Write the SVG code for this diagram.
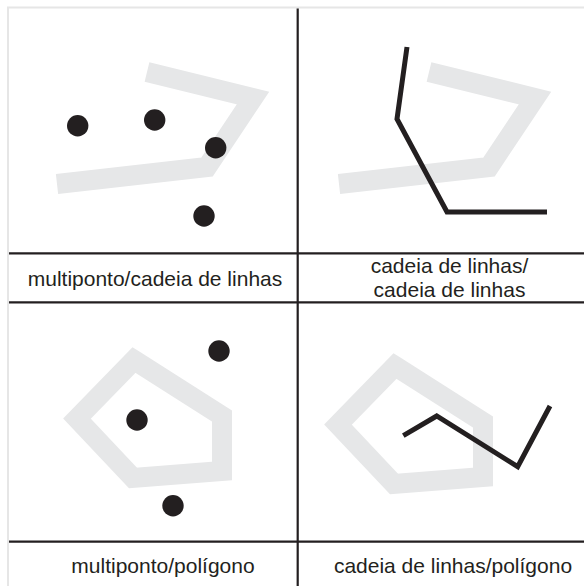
<svg xmlns="http://www.w3.org/2000/svg" width="584" height="586" viewBox="0 0 584 586">
<style>
.frame{fill:none;stroke:#e6e6e6;stroke-width:2}
.grid{stroke:#231f20;stroke-width:2.2;fill:none}
.gray{fill:none;stroke:#e6e7e8;stroke-width:20;stroke-linejoin:miter;stroke-miterlimit:10}
.black{fill:none;stroke:#231f20;stroke-width:5;stroke-linejoin:miter;stroke-miterlimit:10}
.dot{fill:#231f20}
.lbl{font-family:"Liberation Sans",Arial,sans-serif;font-size:21px;fill:#231f20;text-anchor:middle}
</style>
<rect width="584" height="586" fill="#fff"/>
<g id="frame">
<path class="frame" d="M8,586 V7.5 H584"/>
</g>
<g id="connectors">
<line class="grid" x1="297.7" y1="8.5" x2="297.7" y2="586"/>
<line class="grid" x1="9" y1="253.3" x2="584" y2="253.3"/>
<line class="grid" x1="9" y1="302.3" x2="584" y2="302.3"/>
<line class="grid" x1="9" y1="541.7" x2="584" y2="541.7"/>
</g>
<g id="panel-multiponto-cadeia">
<polyline class="gray" points="147,72 253,98 207,167 57,184"/>
<circle class="dot" cx="77.7" cy="125.7" r="10.7"/>
<circle class="dot" cx="154.7" cy="120" r="10.7"/>
<circle class="dot" cx="215.7" cy="147.7" r="10.7"/>
<circle class="dot" cx="204" cy="216" r="10.7"/>
<text class="lbl" x="155" y="286">multiponto/cadeia de linhas</text>
</g>
<g id="panel-cadeia-cadeia">
<polyline class="gray" points="429,72 535,98 489,167 339,184"/>
<polyline class="black" points="407,47 397,119 447,212 547,212"/>
<text class="lbl" x="449.5" y="273">cadeia de linhas/</text>
<text class="lbl" x="449.5" y="297">cadeia de linhas</text>
</g>
<g id="panel-multiponto-poligono">
<polygon class="gray" points="134,360 222,416 222,471 133,478 77,418.5"/>
<circle class="dot" cx="219" cy="351" r="10.7"/>
<circle class="dot" cx="137" cy="420" r="10.7"/>
<circle class="dot" cx="173" cy="505.7" r="10.7"/>
<text class="lbl" x="163" y="573">multiponto/polígono</text>
</g>
<g id="panel-cadeia-poligono">
<polygon class="gray" points="395,366 483,422 483,477 394,484 338,424.5"/>
<polyline class="black" points="403.3,435.7 436.7,416 517.7,466.7 550,406"/>
<text class="lbl" x="453" y="573">cadeia de linhas/polígono</text>
</g>
</svg>
